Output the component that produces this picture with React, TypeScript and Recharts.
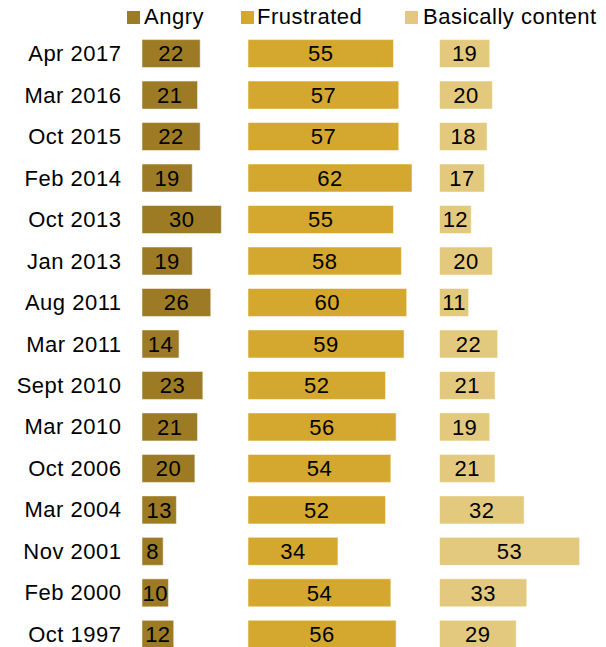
import React from 'react';
import { BarChart, Bar, XAxis, YAxis, LabelList, Legend } from 'recharts';

const categories = ['Apr 2017', 'Mar 2016', 'Oct 2015', 'Feb 2014', 'Oct 2013', 'Jan 2013', 'Aug 2011', 'Mar 2011', 'Sept 2010', 'Mar 2010', 'Oct 2006', 'Mar 2004', 'Nov 2001', 'Feb 2000', 'Oct 1997'];
const angry = [22, 21, 22, 19, 30, 19, 26, 14, 23, 21, 20, 13, 8, 10, 12];
const frustrated = [55, 57, 57, 62, 55, 58, 60, 59, 52, 56, 54, 52, 34, 54, 56];
const content = [19, 20, 18, 17, 12, 20, 11, 22, 21, 19, 21, 32, 53, 33, 29];
const seriesNames = ['Angry', 'Frustrated', 'Basically content'];

const COLORS = ['#9C7B24', '#D4A72F', '#E3C97E'];
const FONT = '"Liberation Sans", Arial, sans-serif';
const FS = 22;
const LS = '0.5px';

const data = categories.map((cat, i) => ({
  cat,
  angry: angry[i],
  frustrated: frustrated[i],
  content: content[i],
}));

const legendLayout = [
  { sq: 127, tx: 144 },
  { sq: 241, tx: 257 },
  { sq: 405, tx: 423 },
];

const renderLegend = () => (
  <div style={{ position: 'relative', width: 606, height: 30, fontFamily: FONT, fontSize: FS, color: '#000', letterSpacing: LS }}>
    {seriesNames.map((name, i) => (
      <React.Fragment key={name}>
        <div style={{ position: 'absolute', left: legendLayout[i].sq, top: 11, width: 13, height: 13, background: COLORS[i] }} />
        <div style={{ position: 'absolute', left: legendLayout[i].tx, top: 4, lineHeight: '26px', whiteSpace: 'nowrap' }}>{name}</div>
      </React.Fragment>
    ))}
  </div>
);

const labelProps = { position: 'center' as const, fill: '#000', fontSize: FS, fontFamily: FONT, letterSpacing: LS };

export default function App() {
  return (
    <div style={{ position: 'absolute', left: 0, top: 0, width: 606, height: 647, overflow: 'hidden', background: '#fff', fontFamily: FONT }}>
      <BarChart
        width={606}
        height={660}
        data={data}
        layout="vertical"
        margin={{ top: 2.6, right: 0, bottom: 5.2, left: 0 }}
      >
        <Legend
          verticalAlign="top"
          align="left"
          content={renderLegend}
          wrapperStyle={{ top: 0, left: 0, width: 606, height: 30 }}
        />
        <XAxis xAxisId="a" type="number" domain={[0, 175.43]} allowDataOverflow hide />
        <XAxis xAxisId="f" type="number" domain={[-40.08, 135.35]} allowDataOverflow hide />
        <XAxis xAxisId="c" type="number" domain={[-112.48, 62.95]} allowDataOverflow hide />
        <YAxis
          yAxisId="a"
          type="category"
          dataKey="cat"
          width={142}
          axisLine={false}
          tickLine={false}
          tickMargin={14.5}
          interval={0}
          tick={{ fill: '#000', fontSize: FS, fontFamily: FONT, letterSpacing: LS }}
        />
        <YAxis yAxisId="f" type="category" dataKey="cat" hide />
        <YAxis yAxisId="c" type="category" dataKey="cat" hide />
        <Bar dataKey="angry" name={seriesNames[0]} xAxisId="a" yAxisId="a" barSize={28} fill={COLORS[0]} stroke="#ffffff" strokeOpacity={0.5} isAnimationActive={false}>
          <LabelList dataKey="angry" {...labelProps} />
        </Bar>
        <Bar dataKey="frustrated" name={seriesNames[1]} xAxisId="f" yAxisId="f" barSize={28} fill={COLORS[1]} stroke="#ffffff" strokeOpacity={0.5} isAnimationActive={false}>
          <LabelList dataKey="frustrated" {...labelProps} />
        </Bar>
        <Bar dataKey="content" name={seriesNames[2]} xAxisId="c" yAxisId="c" barSize={28} fill={COLORS[2]} stroke="#ffffff" strokeOpacity={0.5} isAnimationActive={false}>
          <LabelList dataKey="content" {...labelProps} />
        </Bar>
      </BarChart>
    </div>
  );
}
